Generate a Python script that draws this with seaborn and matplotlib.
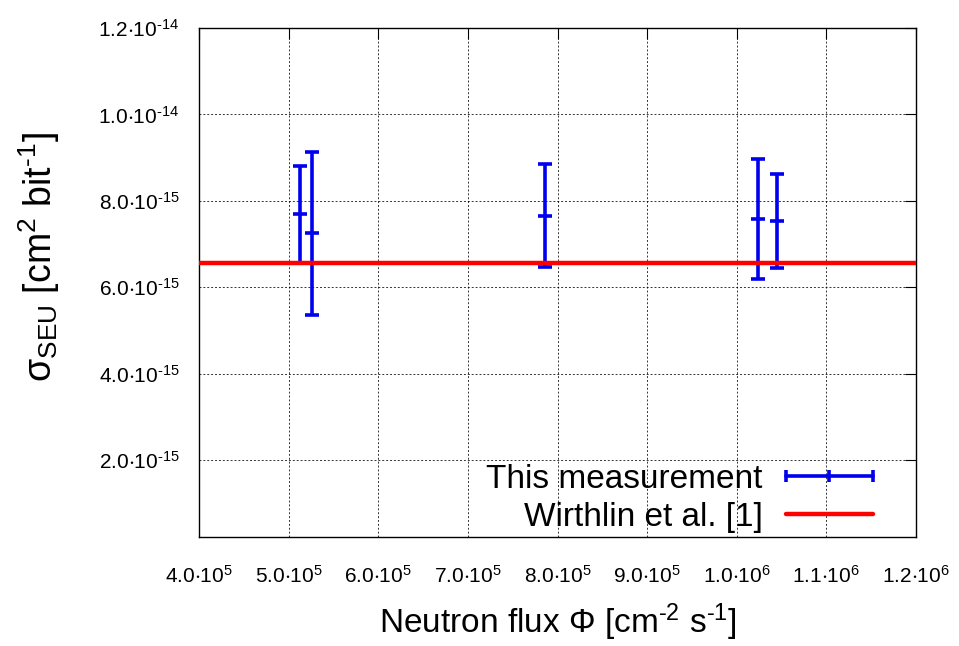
import numpy as np
import pandas as pd
import matplotlib
matplotlib.use("Agg")
import matplotlib.pyplot as plt
import seaborn as sns
from matplotlib.lines import Line2D

# ---- data ----
flux = [5.13e5, 5.26e5, 7.86e5, 1.0235e6, 1.0447e6]
sigma = [7.69e-15, 7.25e-15, 7.66e-15, 7.58e-15, 7.53e-15]
sigma_err = [1.12e-15, 1.89e-15, 1.19e-15, 1.38e-15, 1.09e-15]
wirthlin = 6.55e-15

xticks = [4e5, 5e5, 6e5, 7e5, 8e5, 9e5, 1.0e6, 1.1e6, 1.2e6]
xtick_labels = [r"$4.0{\cdot}10^{5}$", r"$5.0{\cdot}10^{5}$", r"$6.0{\cdot}10^{5}$",
                r"$7.0{\cdot}10^{5}$", r"$8.0{\cdot}10^{5}$", r"$9.0{\cdot}10^{5}$",
                r"$1.0{\cdot}10^{6}$", r"$1.1{\cdot}10^{6}$", r"$1.2{\cdot}10^{6}$"]
yticks = [2e-15, 4e-15, 6e-15, 8e-15, 1.0e-14, 1.2e-14]
ytick_labels = [r"$2.0{\cdot}10^{\text{-}15}$", r"$4.0{\cdot}10^{\text{-}15}$",
                r"$6.0{\cdot}10^{\text{-}15}$", r"$8.0{\cdot}10^{\text{-}15}$",
                r"$1.0{\cdot}10^{\text{-}14}$", r"$1.2{\cdot}10^{\text{-}14}$"]

df = pd.DataFrame({"flux": flux, "sigma": sigma, "err": sigma_err})

sns.set_style("white")
plt.rcParams["font.family"] = ["Liberation Sans", "DejaVu Sans"]
plt.rcParams["mathtext.fontset"] = "custom"
plt.rcParams["mathtext.rm"] = "Liberation Sans"
plt.rcParams["mathtext.it"] = "Liberation Sans"
plt.rcParams["mathtext.bf"] = "Liberation Sans"
plt.rcParams["mathtext.default"] = "regular"
for k in ["text.color", "axes.labelcolor", "xtick.color", "ytick.color"]:
    plt.rcParams[k] = "black"

fig = plt.figure(figsize=(9.59, 6.46), dpi=100)
ax = fig.add_axes([199/959, 1-537/646, (916-199)/959, (537-28)/646])

blue = "#0000ee"
ax.errorbar(df["flux"], df["sigma"], yerr=df["err"], fmt="none", ecolor=blue,
            elinewidth=2.6, capsize=5, capthick=2.6, zorder=3)
sns.scatterplot(data=df, x="flux", y="sigma", marker="_", s=90, color=blue,
                linewidth=2.6, ax=ax, zorder=4, legend=False)
ax.axhline(wirthlin, color="#ff0000", lw=3.2, zorder=5)

ax.set_xlim(4e5, 1.2e6)
ax.set_ylim(2.2e-16, 1.2e-14)
ax.set_xticks(xticks)
ax.set_xticklabels(xtick_labels, fontsize=15)
ax.set_yticks(yticks)
ax.set_yticklabels(ytick_labels, fontsize=15)
ax.tick_params(direction="in", length=8, width=0.8, top=True, right=True)
ax.tick_params(axis="x", pad=20)
ax.tick_params(axis="y", pad=14)
ax.grid(True, color="black", linestyle=(0, (2, 2)), linewidth=0.7, alpha=0.8)
for s in ax.spines.values():
    s.set_color("black")
    s.set_linewidth(1.0)

ax.set_xlabel(r"Neutron flux $\Phi$ [cm$^{\text{-}2}$ s$^{\text{-}1}$]", fontsize=24, labelpad=11)
ax.set_ylabel(r"$\sigma_{SEU}$ [cm$^{2}$ bit$^{\text{-}1}$]", fontsize=27)
ax.yaxis.set_label_coords(-0.191, 0.55)

h1 = Line2D([], [], color=blue, lw=2.6, marker="|", markersize=9, mew=2.6)
h2 = Line2D([], [], color="#ff0000", lw=3.2)
ax.legend([h1, h2], ["This measurement", "Wirthlin et al. [1]"], loc="lower right",
          bbox_to_anchor=(0.972, -0.018), frameon=False, markerfirst=False,
          fontsize=24, numpoints=3, handlelength=3.2, handletextpad=0.4,
          labelspacing=0.2, borderaxespad=0.0)

fig.savefig("out.png", dpi=100)
